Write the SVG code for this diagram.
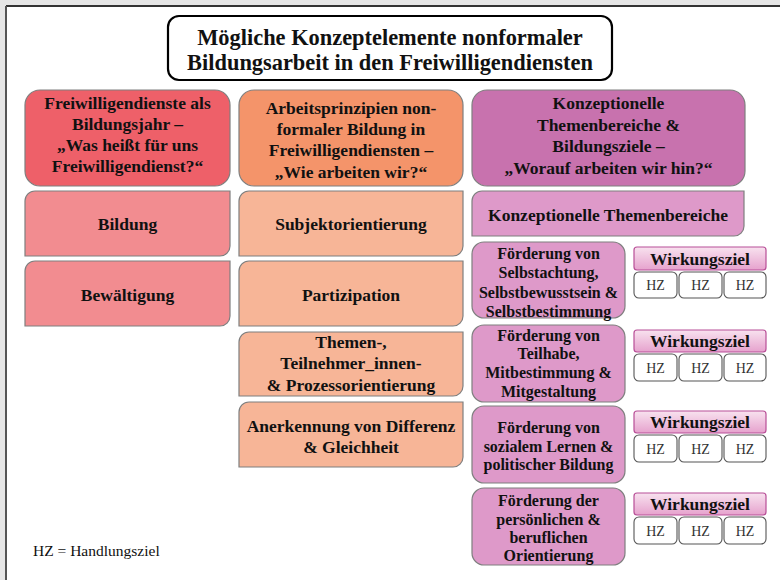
<svg xmlns="http://www.w3.org/2000/svg" width="780" height="580" viewBox="0 0 780 580">
<defs>
<linearGradient id="wz" x1="0" y1="0" x2="0" y2="1">
<stop offset="0" stop-color="#f8e2ef"/>
<stop offset="1" stop-color="#e6a2cd"/>
</linearGradient>
<style>
text{font-family:"Liberation Serif","DejaVu Serif",serif;fill:#111;text-anchor:middle}
.b{font-weight:bold;font-size:17.5px}
.t{font-weight:bold;font-size:22.4px}
.f{font-weight:bold;font-size:16px}
.hz{font-size:14px;fill:#333}
.lg{font-size:15.5px;text-anchor:start}
.box{stroke:#7f7f7f;stroke-width:1.2}
.h1{fill:#ee6069}.s1{fill:#f28c90}
.h2{fill:#f4946a}.s2{fill:#f7b597}
.h3{fill:#c872ae}.s3{fill:#de99c9}
.wz{fill:url(#wz);stroke:#b84f97;stroke-width:1.2}
.hzb{fill:#fff;stroke:#555;stroke-width:1.1}
</style>
</defs>
<rect x="0" y="0" width="780" height="580" fill="#e6e6e6"/>
<rect x="6" y="6" width="774" height="574" fill="#fff"/>
<line x1="6" y1="6" x2="780" y2="6" stroke="#333" stroke-width="1.8"/>
<line x1="6" y1="6" x2="6" y2="580" stroke="#555" stroke-width="2"/>

<g id="title">
<rect x="168" y="16" width="444" height="64" rx="11" fill="#fff" stroke="#000" stroke-width="2.2"/>
<text class="t" x="390" y="45">Mögliche Konzeptelemente nonformaler</text>
<text class="t" x="390" y="70">Bildungsarbeit in den Freiwilligendiensten</text>
</g>

<g id="col1-header">
<rect class="box h1" x="25" y="90" width="205" height="96" rx="15"/>
<text class="b" x="127.5" y="109">Freiwilligendienste als</text>
<text class="b" x="127.5" y="130">Bildungsjahr –</text>
<text class="b" x="127.5" y="151">„Was heißt für uns</text>
<text class="b" x="127.5" y="172">Freiwilligendienst?“</text>
</g>
<g id="bildung">
<path class="box s1" d="M35 191H230V246A10 10 0 0 1 220 256H25V201A10 10 0 0 1 35 191Z"/>
<text class="b" x="127.5" y="229.5">Bildung</text>
</g>
<g id="bewaeltigung">
<path class="box s1" d="M35 261H230V316A10 10 0 0 1 220 326H25V271A10 10 0 0 1 35 261Z"/>
<text class="b" x="127.5" y="300.5">Bewältigung</text>
</g>

<g id="col2-header">
<rect class="box h2" x="239" y="90" width="224" height="96" rx="15"/>
<text class="b" x="351" y="113.5">Arbeitsprinzipien non-</text>
<text class="b" x="351" y="134.5">formaler Bildung in</text>
<text class="b" x="351" y="156">Freiwilligendiensten –</text>
<text class="b" x="351" y="177.5">„Wie arbeiten wir?“</text>
</g>
<g id="subjekt">
<path class="box s2" d="M249 191H463V246A10 10 0 0 1 453 256H239V201A10 10 0 0 1 249 191Z"/>
<text class="b" x="351" y="229.5">Subjektorientierung</text>
</g>
<g id="partizipation">
<path class="box s2" d="M249 261H463V316A10 10 0 0 1 453 326H239V271A10 10 0 0 1 249 261Z"/>
<text class="b" x="351" y="300.5">Partizipation</text>
</g>
<g id="themen">
<path class="box s2" d="M249 332H463V386A10 10 0 0 1 453 396H239V342A10 10 0 0 1 249 332Z"/>
<text class="b" x="351" y="347.5">Themen-,</text>
<text class="b" x="351" y="368.5">Teilnehmer_innen-</text>
<text class="b" x="351" y="390.5">&amp; Prozessorientierung</text>
</g>
<g id="anerkennung">
<path class="box s2" d="M249 402H463V457A10 10 0 0 1 453 467H239V412A10 10 0 0 1 249 402Z"/>
<text class="b" x="351" y="431.5">Anerkennung von Differenz</text>
<text class="b" x="351" y="452.5">&amp; Gleichheit</text>
</g>

<g id="col3-header">
<rect class="box h3" x="472" y="90" width="273" height="96" rx="15"/>
<text class="b" x="608.5" y="109">Konzeptionelle</text>
<text class="b" x="608.5" y="131">Themenbereiche &amp;</text>
<text class="b" x="608.5" y="152">Bildungsziele –</text>
<text class="b" x="608.5" y="173.5">„Worauf  arbeiten wir hin?“</text>
</g>
<g id="themenbereiche">
<path class="box s3" d="M482 191H744V226A10 10 0 0 1 734 236H472V201A10 10 0 0 1 482 191Z"/>
<text class="b" x="608" y="220.5">Konzeptionelle Themenbereiche</text>
</g>

<g id="foerderung1">
<rect class="box s3" x="472" y="242" width="153" height="76" rx="12"/>
<text class="f" x="548.5" y="258.5">Förderung von</text>
<text class="f" x="548.5" y="278">Selbstachtung,</text>
<text class="f" x="548.5" y="297.5">Selbstbewusstsein &amp;</text>
<text class="f" x="548.5" y="317">Selbstbestimmung</text>
</g>
<g id="ziel1">
<rect class="wz" x="634" y="247" width="132" height="23" rx="3"/>
<text class="b" x="700" y="264.5">Wirkungsziel</text>
<rect class="hzb" x="634" y="272" width="43" height="26" rx="5"/>
<rect class="hzb" x="679" y="272" width="43" height="26" rx="5"/>
<rect class="hzb" x="724" y="272" width="42" height="26" rx="5"/>
<text class="hz" x="655.5" y="290">HZ</text>
<text class="hz" x="700.5" y="290">HZ</text>
<text class="hz" x="745" y="290">HZ</text>
</g>

<g id="foerderung2">
<rect class="box s3" x="472" y="325" width="153" height="77" rx="12"/>
<text class="f" x="548.5" y="340.5">Förderung von</text>
<text class="f" x="548.5" y="358.5">Teilhabe,</text>
<text class="f" x="548.5" y="377.5">Mitbestimmung &amp;</text>
<text class="f" x="548.5" y="396.5">Mitgestaltung</text>
</g>
<g id="ziel2">
<rect class="wz" x="634" y="330" width="132" height="22" rx="3"/>
<text class="b" x="700" y="347">Wirkungsziel</text>
<rect class="hzb" x="634" y="354" width="43" height="27" rx="5"/>
<rect class="hzb" x="679" y="354" width="43" height="27" rx="5"/>
<rect class="hzb" x="724" y="354" width="42" height="27" rx="5"/>
<text class="hz" x="655.5" y="372.5">HZ</text>
<text class="hz" x="700.5" y="372.5">HZ</text>
<text class="hz" x="745" y="372.5">HZ</text>
</g>

<g id="foerderung3">
<rect class="box s3" x="472" y="406" width="153" height="77" rx="12"/>
<text class="f" x="548.5" y="432.5">Förderung von</text>
<text class="f" x="548.5" y="451.5">sozialem Lernen &amp;</text>
<text class="f" x="548.5" y="469.5">politischer Bildung</text>
</g>
<g id="ziel3">
<rect class="wz" x="634" y="411" width="132" height="22" rx="3"/>
<text class="b" x="700" y="428">Wirkungsziel</text>
<rect class="hzb" x="634" y="435" width="43" height="27" rx="5"/>
<rect class="hzb" x="679" y="435" width="43" height="27" rx="5"/>
<rect class="hzb" x="724" y="435" width="42" height="27" rx="5"/>
<text class="hz" x="655.5" y="453.5">HZ</text>
<text class="hz" x="700.5" y="453.5">HZ</text>
<text class="hz" x="745" y="453.5">HZ</text>
</g>

<g id="foerderung4">
<rect class="box s3" x="472" y="488" width="153" height="77" rx="12"/>
<text class="f" x="548.5" y="505.5">Förderung der</text>
<text class="f" x="548.5" y="524.5">persönlichen &amp;</text>
<text class="f" x="548.5" y="542.5">beruflichen</text>
<text class="f" x="548.5" y="560.5">Orientierung</text>
</g>
<g id="ziel4">
<rect class="wz" x="634" y="493" width="132" height="22" rx="3"/>
<text class="b" x="700" y="510">Wirkungsziel</text>
<rect class="hzb" x="634" y="517" width="43" height="27" rx="5"/>
<rect class="hzb" x="679" y="517" width="43" height="27" rx="5"/>
<rect class="hzb" x="724" y="517" width="42" height="27" rx="5"/>
<text class="hz" x="655.5" y="535.5">HZ</text>
<text class="hz" x="700.5" y="535.5">HZ</text>
<text class="hz" x="745" y="535.5">HZ</text>
</g>

<g id="legend">
<text class="lg" x="33" y="556">HZ = Handlungsziel</text>
</g>
<g id="connectors"></g>
</svg>
